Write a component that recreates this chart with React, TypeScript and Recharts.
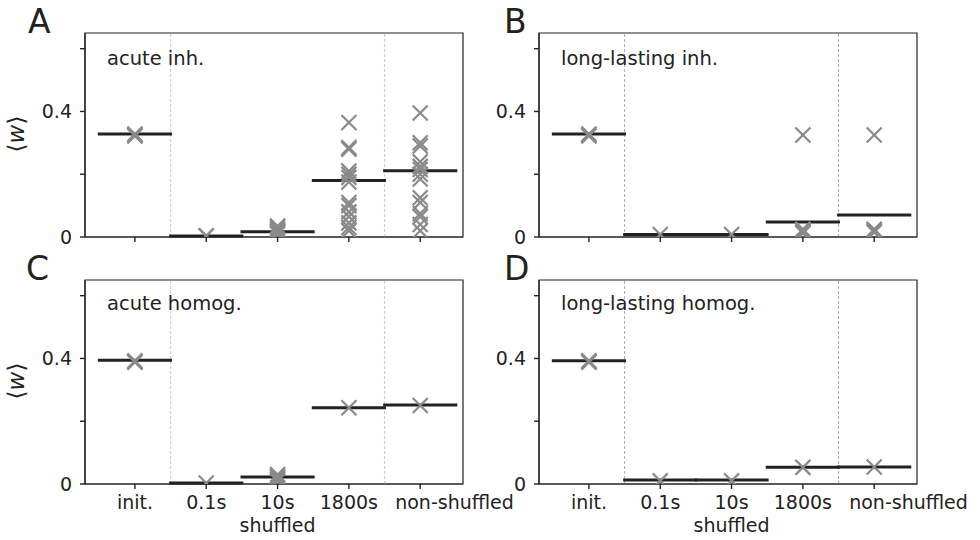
import React from "react";
import {
  ScatterChart,
  Scatter,
  XAxis,
  YAxis,
  ReferenceLine,
  ReferenceArea,
} from "recharts";

const categories = ["init.", "0.1s", "10s", "1800s", "non-shuffled"];
const xTicks = [0, 1, 2, 3, 4];
const yTicks = [0, 0.2, 0.4, 0.6];

// samples per category (init., 0.1s, 10s, 1800s, non-shuffled)
const acuteInhSamples = [
  [0.322, 0.325, 0.328],
  [0.004, 0.003],
  [0.01, 0.015, 0.02, 0.025, 0.03, 0.035, 0.018],
  [0.365, 0.285, 0.28, 0.21, 0.2, 0.19, 0.175, 0.11, 0.1, 0.08, 0.065, 0.045, 0.03, 0.02],
  [0.395, 0.3, 0.29, 0.24, 0.225, 0.215, 0.2, 0.185, 0.125, 0.11, 0.075, 0.065, 0.04, 0.02],
];
const acuteInhMeans = [0.328, 0.003, 0.017, 0.18, 0.211];

const longInhSamples = [
  [0.322, 0.325, 0.328],
  [0.008],
  [0.008],
  [0.325, 0.012, 0.015, 0.018, 0.022, 0.025],
  [0.325, 0.015, 0.018, 0.022, 0.025],
];
const longInhMeans = [0.328, 0.008, 0.008, 0.048, 0.07];

const acuteHomSamples = [
  [0.388, 0.39, 0.393],
  [0.003],
  [0.01, 0.015, 0.02, 0.025, 0.03],
  [0.243],
  [0.25],
];
const acuteHomMeans = [0.394, 0.003, 0.022, 0.243, 0.252];

const longHomSamples = [
  [0.388, 0.39, 0.393],
  [0.01],
  [0.01],
  [0.053],
  [0.054],
];
const longHomMeans = [0.393, 0.013, 0.013, 0.053, 0.054];

const FONT = "DejaVu Sans";
const INK = "#222";

const XMark = (props: any) => {
  const { cx, cy } = props;
  const s = 7.5;
  return (
    <g stroke="#8a8a8a" strokeWidth={2.2}>
      <line x1={cx - s} y1={cy - s} x2={cx + s} y2={cy + s} />
      <line x1={cx - s} y1={cy + s} x2={cx + s} y2={cy - s} />
    </g>
  );
};

const makeTick = (showLabels: boolean) => (props: any) => {
  const { x, y, payload } = props;
  if (!showLabels) return <g />;
  const v = payload.value as number;
  // the last label sits shifted to the right of its tick
  const last = v === 4;
  return (
    <g>
      <text
        x={last ? x - 25 : x}
        y={y}
        dy="0.71em"
        textAnchor={last ? "start" : "middle"}
        fill={INK}
        fontSize={19}
        fontFamily={FONT}
      >
        {categories[v]}
      </text>
      {v === 2 && (
        <text x={x} y={y + 23} dy="0.71em" textAnchor="middle" fill={INK} fontSize={19} fontFamily={FONT}>
          shuffled
        </text>
      )}
    </g>
  );
};

type PanelProps = {
  left: number;
  top: number;
  bottomRow: boolean;
  samples: number[][];
  means: number[];
  dashColor: string;
  dashWidth: number;
};

function Panel({ left, top, bottomRow, samples, means, dashColor, dashWidth }: PanelProps) {
  const points = samples.flatMap((vals, i) => vals.map((v) => ({ x: i, y: v })));
  const height = bottomRow ? 293 : 272;
  const xh = bottomRow ? 50 : 30;
  const mb = bottomRow ? 6 : 5;
  return (
    <div style={{ position: "absolute", left, top }}>
      <ScatterChart width={540} height={height} margin={{ top: 33, right: 77, bottom: mb, left: 25 }}>
        <XAxis
          type="number"
          dataKey="x"
          domain={[-0.7, 4.6]}
          ticks={xTicks}
          allowDataOverflow
          height={xh}
          axisLine={{ stroke: INK, strokeWidth: 1.2 }}
          tickLine={{ stroke: INK, strokeWidth: 1.4 }}
          tickSize={5}
          tickMargin={7}
          tick={makeTick(bottomRow)}
          interval={0}
        />
        <YAxis
          type="number"
          dataKey="y"
          domain={[0, 0.65]}
          ticks={yTicks}
          allowDataOverflow
          width={60}
          axisLine={{ stroke: INK, strokeWidth: 1.2 }}
          tickLine={{ stroke: INK, strokeWidth: 1.4 }}
          tickSize={5}
          tickMargin={8}
          tick={{ fill: INK, fontSize: 19, fontFamily: FONT }}
          tickFormatter={(v: number) => (v === 0 ? "0" : v === 0.4 ? "0.4" : "")}
          interval={0}
        />
        <ReferenceArea x1={-0.7} x2={4.6} y1={0} y2={0.65} fill="none" fillOpacity={0} stroke={INK} strokeWidth={1.2} />
        <ReferenceLine x={0.5} stroke={dashColor} strokeWidth={dashWidth} strokeDasharray="3 2" />
        <ReferenceLine x={3.5} stroke={dashColor} strokeWidth={dashWidth} strokeDasharray="3 2" />
        {means.map((m, i) => (
          <ReferenceLine
            key={`mean-${i}`}
            segment={[
              { x: i - 0.52, y: m },
              { x: i + 0.52, y: m },
            ]}
            stroke={INK}
            strokeWidth={3}
          />
        ))}
        <Scatter data={points} shape={XMark} isAnimationActive={false} />
      </ScatterChart>
    </div>
  );
}

const textStyle: React.CSSProperties = {
  position: "absolute",
  fontFamily: FONT,
  color: INK,
  lineHeight: 1,
  whiteSpace: "nowrap",
};

export default function App() {
  return (
    <div style={{ position: "absolute", left: 0, top: 0, width: 980, height: 540, background: "#fff", overflow: "hidden" }}>
      <Panel left={0} top={0} bottomRow={false} samples={acuteInhSamples} means={acuteInhMeans} dashColor="#cfcfcf" dashWidth={1.2} />
      <Panel left={454} top={0} bottomRow={false} samples={longInhSamples} means={longInhMeans} dashColor="#999" dashWidth={0.8} />
      <Panel left={0} top={247} bottomRow={true} samples={acuteHomSamples} means={acuteHomMeans} dashColor="#cfcfcf" dashWidth={1.2} />
      <Panel left={454} top={247} bottomRow={true} samples={longHomSamples} means={longHomMeans} dashColor="#999" dashWidth={0.8} />

      <div style={{ ...textStyle, left: 28, top: 5, fontSize: 33 }}>A</div>
      <div style={{ ...textStyle, left: 504, top: 5, fontSize: 33 }}>B</div>
      <div style={{ ...textStyle, left: 26, top: 252, fontSize: 33 }}>C</div>
      <div style={{ ...textStyle, left: 504, top: 252, fontSize: 33 }}>D</div>

      <div style={{ ...textStyle, left: 107, top: 49, fontSize: 19.5 }}>acute inh.</div>
      <div style={{ ...textStyle, left: 561, top: 49, fontSize: 19.5 }}>long-lasting inh.</div>
      <div style={{ ...textStyle, left: 107, top: 294, fontSize: 19.5 }}>acute homog.</div>
      <div style={{ ...textStyle, left: 561, top: 294, fontSize: 19.5 }}>long-lasting homog.</div>

      <div style={{ ...textStyle, left: 16, top: 134, fontSize: 23, transform: "translate(-50%, -50%) rotate(-90deg)" }}>
        ⟨<i>w</i>⟩
      </div>
      <div style={{ ...textStyle, left: 16, top: 381, fontSize: 23, transform: "translate(-50%, -50%) rotate(-90deg)" }}>
        ⟨<i>w</i>⟩
      </div>
    </div>
  );
}
